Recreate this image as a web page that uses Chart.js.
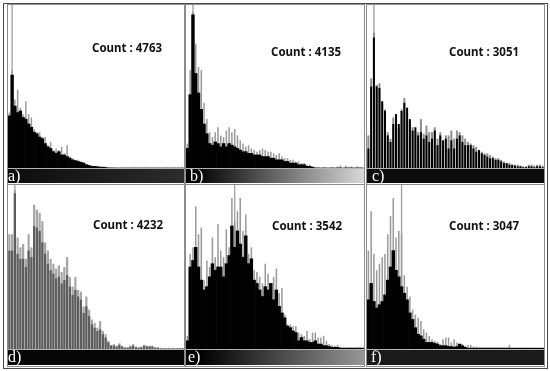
<!DOCTYPE html>
<html lang="en">
<head>
<meta charset="UTF-8">
<title>Histogram panels</title>
<style>
  body { margin: 0; background: #fff; }
  #frame { position: relative; width: 550px; height: 371px; overflow: hidden; background: #fff; }
  .outer { position: absolute; left: 3px; top: 3px; width: 543px; height: 364px; border: 1px solid #4a4a4a; }
  .box { position: absolute; border: 1px solid #8c8c8c; }
  .plot { position: absolute; }
  .plot canvas { display: block; }
  .bar { position: absolute; border-top: 1px solid #b4b4b4; box-sizing: border-box; overflow: visible; }
  .tag { position: absolute; top: -1px; color: #fff; font: 16px "Liberation Serif", serif; line-height: 15px; }
  .count { position: absolute; font: bold 11.5px "Noto Sans", sans-serif; line-height: 12px; color: #111; white-space: nowrap; }
</style>
</head>
<body>
<div id="frame">
  <div class="outer"></div>
</div>

<script src="https://cdn.jsdelivr.net/npm/chart.js@4.4.0/dist/chart.umd.min.js"></script>
<script>
// grey level bins (64 bins of 4 levels each)
var levels = Array.from({ length: 64 }, function (_, i) { return i * 4; });

// values are heights in percent of the panel
var blackA = [32, 57, 38, 34, 35, 31, 30, 27, 25, 22, 21, 19, 18, 15, 13, 12, 10, 9, 10, 8,
  8, 7, 6, 5, 4.5, 4, 3.5, 3, 2, 1.5, 1, 1, 0.8, 0.5, 0.5, 0.3, 0, 0, 0, 0,
  0, 0, 0, 0, 0, 0, 0, 0, 0, 0, 0, 0, 0, 0, 0, 0, 0, 0, 0, 0, 0, 0, 0, 0];
var greyA = [34, 60, 42, 48, 37, 33, 41, 33, 31, 24, 22, 22, 19, 19, 14, 16, 11, 12, 11, 13,
  9, 14, 7, 6, 5, 5, 4, 3.5, 2.5, 2, 1.5, 1.2, 1, 1, 0.8, 0.8, 0.5, 0.5, 0.3, 0,
  0, 0, 0, 0, 0, 0, 0, 0, 0, 0, 0, 0, 0, 0, 0, 0, 0, 0, 0, 0, 0, 0, 0, 0];

var blackB = [12, 45, 94, 58, 46, 36, 27, 21, 15, 14, 16, 15, 13, 15, 13, 15, 14, 13, 12, 11,
  10, 10, 9, 9, 8, 8, 8, 7, 7, 7, 6, 6, 5, 5, 5, 4, 4, 3, 3, 3,
  2, 2, 2, 1, 1, 0.5, 0, 0, 0, 0, 0, 0, 0, 0, 0, 0, 0, 0, 0, 0, 0, 0, 0, 0];
var greyB = [15, 60, 96, 76, 62, 60, 40, 30, 22, 19, 22, 25, 20, 19, 23, 25, 22, 24, 20, 17,
  15, 13, 14, 12, 11, 10, 11, 12, 11, 10, 10, 9, 8, 9, 7, 6, 6, 5, 5, 4,
  4, 3, 3, 2, 2, 1, 0.5, 0.5, 0, 0.5, 0, 0, 0.5, 0, 1, 1.5, 0, 1.5, 0.5, 1, 0, 1, 0.5, 0];

var blackC = [12, 50, 80, 50, 49, 41, 35, 20, 16, 27, 33, 27, 35, 40, 37, 30, 23, 25, 20, 22,
  18, 20, 16, 18, 23, 14, 20, 17, 18, 12, 17, 12, 18, 20, 16, 14, 14, 14, 12, 10,
  11, 9, 8, 7, 6, 6, 5, 5, 4, 3, 3, 2, 2, 1.5, 1, 1, 0.5, 0.5, 1, 1, 0.5, 1, 1, 0.5];
var greyC = [20, 55, 83, 51, 52, 40, 36, 22, 18, 31, 33, 25, 36, 43, 33, 28, 25, 22, 22, 30,
  21, 26, 22, 22, 25, 18, 22, 14, 20, 20, 23, 18, 23, 22, 20, 18, 16, 15, 14, 13,
  11, 10, 9, 9, 8, 7, 6, 6, 5, 4, 3, 3, 2, 2, 2, 1.5, 1, 1, 2, 2, 1.5, 2, 2, 1.5];

var blackD = [60, 60, 95, 58, 55, 55, 50, 60, 56, 75, 74, 72, 65, 58, 52, 48, 46, 43, 44, 40,
  42, 45, 38, 33, 36, 32, 30, 22, 26, 20, 15, 13, 11, 12, 9, 7, 4, 2, 2, 1.5,
  2.5, 1.5, 0.8, 0.8, 1.5, 2, 1, 0.8, 1, 2, 1.5, 1.5, 1.5, 0.8, 0.8, 0.4, 0.4, 0.4, 0.4, 0.4,
  0.4, 0.4, 0.4, 0.4];
var greyD = [70, 70, 97, 68, 62, 64, 55, 70, 62, 88, 85, 83, 78, 65, 60, 55, 52, 49, 51, 47,
  50, 56, 44, 38, 44, 36, 35, 26, 32, 24, 18, 16, 13, 17, 11, 9, 5, 2.5, 3, 2,
  3.5, 2, 1, 1, 2, 3, 1.5, 1, 1.5, 2.5, 2, 2, 2, 1, 1, 0.5, 0.5, 0.5, 0.5, 0.5,
  0.5, 0.5, 0.5, 0.5];

var blackE = [5, 50, 54, 62, 50, 42, 36, 38, 44, 52, 48, 50, 50, 44, 52, 57, 75, 62, 72, 64,
  56, 69, 52, 55, 42, 40, 36, 32, 38, 36, 40, 30, 36, 26, 22, 19, 14, 13, 11, 10,
  5, 7, 5, 5, 4, 4, 5, 3, 3, 2, 2, 1.5, 1, 1, 1, 0.5, 0.5, 0.5, 0.5, 0.5,
  0.5, 0.5, 0.5, 0.5];
var greyE = [8, 58, 62, 87, 70, 74, 42, 54, 50, 68, 56, 76, 60, 56, 73, 62, 92, 78, 84, 92,
  72, 82, 58, 62, 48, 47, 44, 40, 52, 46, 38, 44, 49, 34, 37, 21, 15, 15, 14, 14,
  10, 9, 8, 11, 6, 10, 10, 7, 7, 8, 5, 3, 2.5, 2, 2.5, 1.5, 1, 1, 1, 1,
  1, 1, 1, 1];

var blackF = [30, 40, 29, 25, 27, 29, 33, 42, 50, 60, 48, 44, 38, 34, 30, 22, 18, 13, 9, 8,
  6, 4, 4, 4, 3.5, 3, 2, 2, 2, 1.5, 1.5, 1, 1.5, 3, 2, 1, 0.5, 0.5, 0.5, 0.5,
  0.5, 0.5, 0.5, 0.5, 0.5, 0.5, 0.5, 0.5, 0.5, 0.5, 0.5, 0.5, 0.5, 0.5, 0.5, 0.5, 0.5, 0.5, 0.5, 0.5,
  0.5, 0.5, 0.5, 0.5];
var greyF = [60, 84, 58, 48, 52, 56, 58, 70, 81, 92, 68, 72, 70, 45, 38, 32, 24, 21, 19, 17,
  12, 10, 8, 6, 5, 4.5, 3, 6, 7, 7, 4, 6, 4, 3, 3, 2, 2.5, 2.5, 1.5, 1.5,
  1, 1, 1, 1, 1, 1, 1, 1, 1, 1, 1, 2.5, 0.8, 0.8, 0.8, 0.8, 0.8, 0.8, 0.8, 0.8,
  0.8, 0.8, 0.8, 0.8];

var tags = ['a)', 'b)', 'c)', 'd)', 'e)', 'f)'];
var counts = [4763, 4135, 3051, 4232, 3542, 3047];
var markerBins = [1, 2, 2, 2, 17, 12];
var blackSets = [blackA, blackB, blackC, blackD, blackE, blackF];
var greySets = [greyA, greyB, greyC, greyD, greyE, greyF];

// layout of each panel (pixels)
var panels = [
  { x: 8,   y: 5,   w: 176, h: 163, barH: 15, tagX: 0, countX: 92,  countY: 42,  bar: 'linear-gradient(to right, #0c0c0c, #2c2c2c)' },
  { x: 186, y: 5,   w: 178, h: 163, barH: 15, tagX: 4, countX: 271, countY: 46,  bar: 'linear-gradient(to right, #000 4%, #202020 20%, #d8d8d8 100%)' },
  { x: 367, y: 5,   w: 177, h: 163, barH: 15, tagX: 5, countX: 449, countY: 46,  bar: '#0c0c0c' },
  { x: 8,   y: 185, w: 176, h: 164, barH: 16, tagX: 0, countX: 93,  countY: 219, bar: '#060606' },
  { x: 186, y: 185, w: 178, h: 164, barH: 16, tagX: 2, countX: 272, countY: 220, bar: 'linear-gradient(to right, #000 8%, #969696 100%)' },
  { x: 367, y: 185, w: 177, h: 164, barH: 16, tagX: 4, countX: 449, countY: 220, bar: '#1a1a1a' }
];

var looks = [
  { body: '#000', spike: '#9a9a9a', spikeW: 0.55, cat: 1 },
  { body: '#000', spike: '#9a9a9a', spikeW: 0.55, cat: 1 },
  { body: '#000', spike: '#8e8e8e', spikeW: 1, cat: 0.72 },
  { body: '#5c5c5c', spike: '#a6a6a6', spikeW: 1, cat: 0.8 },
  { body: '#000', spike: '#9a9a9a', spikeW: 0.55, cat: 1 },
  { body: '#000', spike: '#9a9a9a', spikeW: 0.55, cat: 1 }
];

var frame = document.getElementById('frame');

function drawPanel(k) {
  var p = panels[k], look = looks[k];

  var box = document.createElement('div');
  box.className = 'box';
  box.style.left = (p.x - 1) + 'px';
  box.style.top = (p.y - 1) + 'px';
  box.style.width = p.w + 'px';
  box.style.height = (p.h + p.barH + 1) + 'px';
  frame.appendChild(box);

  var holder = document.createElement('div');
  holder.className = 'plot';
  holder.style.left = p.x + 'px';
  holder.style.top = p.y + 'px';
  var canvas = document.createElement('canvas');
  canvas.width = p.w;
  canvas.height = p.h;
  canvas.style.width = p.w + 'px';
  canvas.style.height = p.h + 'px';
  holder.appendChild(canvas);
  frame.appendChild(holder);

  var bar = document.createElement('div');
  bar.className = 'bar';
  bar.style.left = p.x + 'px';
  bar.style.top = (p.y + p.h) + 'px';
  bar.style.width = p.w + 'px';
  bar.style.height = p.barH + 'px';
  bar.style.background = p.bar;
  var tag = document.createElement('span');
  tag.className = 'tag';
  tag.style.left = p.tagX + 'px';
  tag.textContent = tags[k];
  bar.appendChild(tag);
  frame.appendChild(bar);

  var count = document.createElement('div');
  count.className = 'count';
  count.style.left = p.countX + 'px';
  count.style.top = p.countY + 'px';
  count.textContent = 'Count : ' + counts[k];
  frame.appendChild(count);

  var marker = levels.map(function (l, i) { return i === markerBins[k] ? 100 : null; });

  new Chart(canvas, {
    type: 'bar',
    data: {
      labels: levels,
      datasets: [
        { data: blackSets[k], backgroundColor: look.body, barPercentage: 1, categoryPercentage: look.cat, order: 1 },
        { data: greySets[k], backgroundColor: look.spike, barPercentage: look.spikeW, categoryPercentage: look.cat, order: 2 },
        { data: marker, backgroundColor: '#a4a4a4', barPercentage: 0.5, categoryPercentage: 1, order: 3 }
      ]
    },
    options: {
      responsive: false,
      animation: false,
      devicePixelRatio: 1,
      datasets: { bar: { grouped: false, borderWidth: 0 } },
      layout: { padding: 0 },
      plugins: { legend: { display: false }, tooltip: { enabled: false } },
      scales: {
        x: { display: false },
        y: { display: false, min: 0, max: 100 }
      }
    }
  });
}

for (var k = 0; k < panels.length; k++) {
  drawPanel(k);
}
</script>
</body>
</html>
